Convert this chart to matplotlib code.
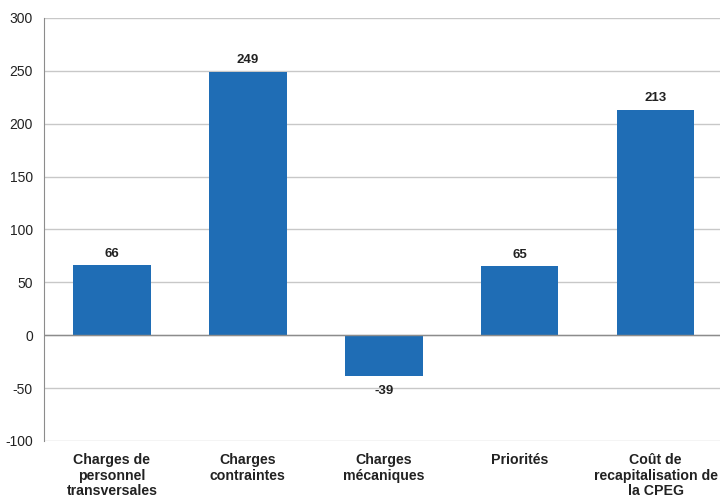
import matplotlib
matplotlib.use("Agg")
import matplotlib.pyplot as plt

categories = ["Charges de\npersonnel\ntransversales", "Charges\ncontraintes",
              "Charges\nmécaniques", "Priorités", "Coût de\nrecapitalisation de\nla CPEG"]
values = [66, 249, -39, 65, 213]
yticks = [-100, -50, 0, 50, 100, 150, 200, 250, 300]

plt.rcParams['font.family'] = ['Liberation Sans', 'DejaVu Sans']

fig = plt.figure(figsize=(7.2, 4.98), dpi=100)
ax = fig.add_axes([0.061, 0.1145, 0.944, 0.8494])

x = range(len(categories))
ax.bar(x, values, width=0.57, color="#1f6db5", zorder=3)
ax.set_xlim(-0.5, len(categories) - 0.5)
ax.set_ylim(-100, 300)
ax.set_yticks(yticks)
ax.set_yticklabels([str(t) for t in yticks], fontsize=10, color="#222222")
ax.set_xticks(list(x))
ax.set_xticklabels(categories, fontsize=10.2, fontweight="bold", color="#222222", linespacing=1.12)
ax.tick_params(axis='x', length=0, pad=9)
ax.tick_params(axis='y', length=0, pad=8)

ax.grid(axis='y', color="#c8c8c8", linewidth=1, zorder=0)
ax.axhline(0, color="#8c8c8c", linewidth=1, zorder=4)
for s in ['top', 'right', 'bottom']:
    ax.spines[s].set_visible(False)
ax.spines['left'].set_color("#8c8c8c")

for xi, v in zip(x, values):
    if v >= 0:
        ax.annotate(str(v), (xi, v), xytext=(0, 4), textcoords="offset points",
                    ha="center", va="bottom", fontsize=9.5, fontweight="bold", color="#222222")
    else:
        ax.annotate(str(v), (xi, v), xytext=(0, -6), textcoords="offset points",
                    ha="center", va="top", fontsize=9.5, fontweight="bold", color="#222222")

fig.savefig("out.png", dpi=100)
